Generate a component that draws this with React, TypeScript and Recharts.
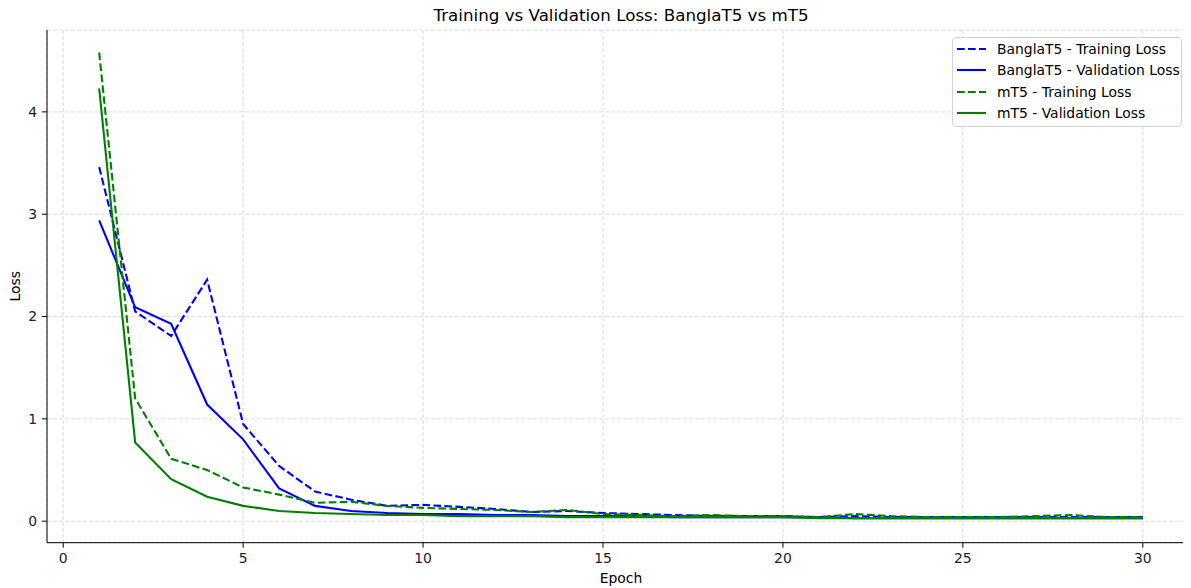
import React from 'react';
import { LineChart, Line, XAxis, YAxis, CartesianGrid, Legend, Label } from 'recharts';

const epochs = [1, 2, 3, 4, 5, 6, 7, 8, 9, 10, 11, 12, 13, 14, 15, 16, 17, 18, 19, 20, 21, 22, 23, 24, 25, 26, 27, 28, 29, 30];

const banglaTrain = [3.46, 2.05, 1.81, 2.36, 0.95, 0.54, 0.29, 0.21, 0.15, 0.16, 0.14, 0.12, 0.09, 0.1, 0.08, 0.07, 0.06, 0.05, 0.05, 0.05, 0.04, 0.05, 0.04, 0.04, 0.04, 0.04, 0.04, 0.04, 0.04, 0.04];
const banglaVal = [2.94, 2.09, 1.93, 1.14, 0.8, 0.32, 0.15, 0.1, 0.08, 0.07, 0.07, 0.06, 0.06, 0.05, 0.05, 0.05, 0.04, 0.04, 0.04, 0.04, 0.04, 0.03, 0.03, 0.03, 0.03, 0.03, 0.03, 0.03, 0.03, 0.03];
const mt5Train = [4.58, 1.2, 0.61, 0.5, 0.33, 0.26, 0.18, 0.19, 0.15, 0.13, 0.12, 0.11, 0.09, 0.11, 0.07, 0.06, 0.05, 0.06, 0.05, 0.05, 0.04, 0.07, 0.05, 0.04, 0.04, 0.04, 0.05, 0.06, 0.04, 0.04];
const mt5Val = [4.23, 0.77, 0.41, 0.24, 0.15, 0.1, 0.08, 0.07, 0.06, 0.06, 0.05, 0.05, 0.05, 0.04, 0.04, 0.04, 0.04, 0.04, 0.04, 0.04, 0.03, 0.03, 0.03, 0.03, 0.03, 0.03, 0.03, 0.03, 0.03, 0.03];

const xTicks = [0, 5, 10, 15, 20, 25, 30];
const yTicks = [0, 1, 2, 3, 4];

const data = epochs.map((epoch, i) => ({
  epoch,
  banglaTrain: banglaTrain[i],
  banglaVal: banglaVal[i],
  mt5Train: mt5Train[i],
  mt5Val: mt5Val[i],
}));

const FONT = '"DejaVu Sans", sans-serif';
const DASH = '7.7 3.3';
const X_DOMAIN = [-0.45, 31.45];

const renderLegend = (props: any) => {
  const { payload } = props;
  return (
    <div
      style={{
        width: 228,
        height: 88,
        border: '1px solid #d4d4d4',
        borderRadius: 4,
        background: 'rgba(255,255,255,0.85)',
        fontFamily: FONT,
        fontSize: 13.9,
        color: '#000',
        boxSizing: 'content-box',
      }}
    >
      {payload.map((entry: any) => (
        <div key={entry.value} style={{ display: 'flex', alignItems: 'center', height: 21.5 }}>
          <svg width={44} height={10} style={{ flex: 'none' }}>
            <line
              x1={4}
              x2={33}
              y1={5}
              y2={5}
              stroke={entry.color}
              strokeWidth={2.1}
              strokeDasharray={entry.payload.strokeDasharray}
            />
          </svg>
          <span style={{ whiteSpace: 'nowrap' }}>{entry.value}</span>
        </div>
      ))}
    </div>
  );
};

const App: React.FC = () => {
  return (
    <div
      style={{
        position: 'relative',
        width: 1191,
        height: 588,
        marginTop: -8,
        marginLeft: -8,
        overflow: 'hidden',
        fontFamily: FONT,
      }}
    >
      <div
        style={{
          position: 'absolute',
          top: 5,
          left: 421,
          width: 400,
          textAlign: 'center',
          fontSize: 16.7,
          color: '#000',
          whiteSpace: 'nowrap',
        }}
      >
        Training vs Validation Loss: BanglaT5 vs mT5
      </div>
      <LineChart
        width={1196}
        height={588}
        data={data}
        margin={{ top: 30, right: 1, bottom: 0, left: 0 }}
        style={{ fontFamily: FONT }}
      >
        <CartesianGrid stroke="#d6d6d6" strokeDasharray="4 2" strokeWidth={0.9} />
        <XAxis
          dataKey="epoch"
          type="number"
          domain={X_DOMAIN}
          ticks={xTicks}
          allowDataOverflow
          height={45.3}
          stroke="#000"
          tickSize={5}
          tickMargin={5}
          tick={{ fill: '#222', fontSize: 13.9 }}
        >
          <Label value="Epoch" position="insideBottom" offset={5} style={{ fill: '#000', fontSize: 13.9 }} />
        </XAxis>
        <XAxis
          xAxisId="top"
          orientation="top"
          dataKey="epoch"
          type="number"
          domain={X_DOMAIN}
          allowDataOverflow
          height={0}
          stroke="#000"
          tick={false}
          tickLine={false}
        />
        <YAxis
          type="number"
          domain={[-0.21, 4.8]}
          ticks={yTicks}
          allowDataOverflow
          width={47}
          stroke="#000"
          tickSize={5}
          tickMargin={5}
          tick={{ fill: '#222', fontSize: 13.9 }}
        >
          <Label
            value="Loss"
            angle={-90}
            position="insideLeft"
            offset={15}
            style={{ fill: '#000', fontSize: 13.9, textAnchor: 'middle' }}
          />
        </YAxis>
        <Legend
          layout="vertical"
          align="center"
          verticalAlign="middle"
          content={renderLegend}
          wrapperStyle={{ top: 37, left: 952, width: 230 }}
        />
        <Line
          dataKey="banglaTrain"
          name="BanglaT5 - Training Loss"
          stroke="#0000ff"
          strokeWidth={2.1}
          strokeDasharray={DASH}
          dot={false}
          isAnimationActive={false}
        />
        <Line
          dataKey="banglaVal"
          name="BanglaT5 - Validation Loss"
          stroke="#0000ff"
          strokeWidth={2.1}
          dot={false}
          isAnimationActive={false}
        />
        <Line
          dataKey="mt5Train"
          name="mT5 - Training Loss"
          stroke="#008000"
          strokeWidth={2.1}
          strokeDasharray={DASH}
          dot={false}
          isAnimationActive={false}
        />
        <Line
          dataKey="mt5Val"
          name="mT5 - Validation Loss"
          stroke="#008000"
          strokeWidth={2.1}
          dot={false}
          isAnimationActive={false}
        />
      </LineChart>
    </div>
  );
};

export default App;
